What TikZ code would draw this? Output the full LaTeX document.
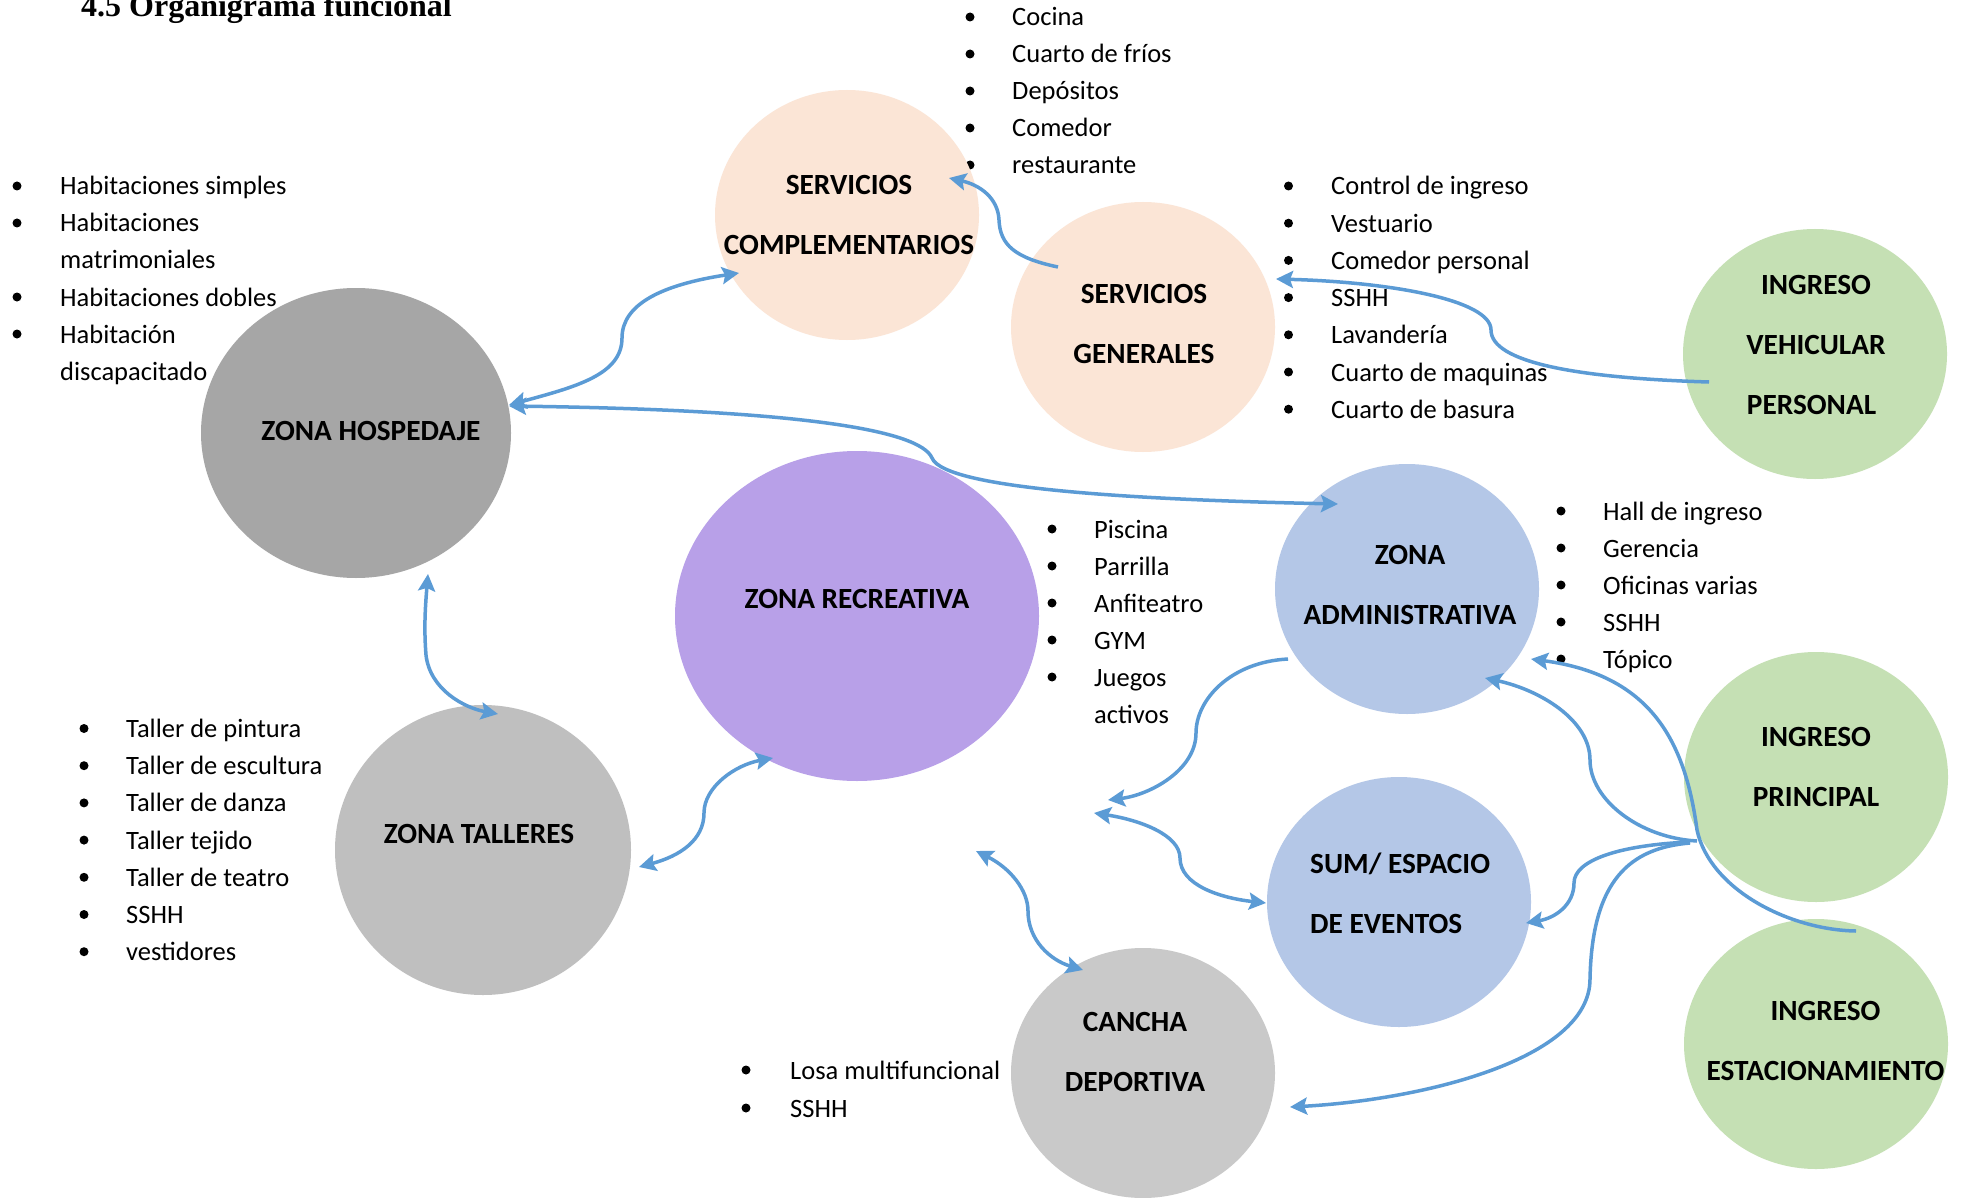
\documentclass[tikz,border=0pt]{standalone}
\usepackage{fontspec}
\setmainfont{Carlito}
\newfontfamily\titlefont{Liberation Serif}
\usetikzlibrary{shapes.geometric,arrows.meta,calc}
\definecolor{peach}{HTML}{FBE5D6}
\definecolor{leaf}{HTML}{C5E0B4}
\definecolor{sky}{HTML}{B4C7E7}
\definecolor{greyA}{HTML}{A6A6A6}
\definecolor{greyB}{HTML}{BFBFBF}
\definecolor{greyC}{HTML}{C9C9C9}
\definecolor{lilac}{HTML}{B8A0E8}
\definecolor{lineblue}{HTML}{5B9BD5}
\begin{document}
\begin{tikzpicture}[x=1pt,y=-1pt,
  >={Stealth[length=17pt,width=17pt,inset=3pt]},
  zone/.style={ellipse,inner sep=0pt,draw=none,minimum width=264pt,minimum height=250pt},
  item/.style={anchor=base west,inner sep=0pt,font=\fontsize{26.5}{37}\selectfont},
  lbl/.style={inner sep=0pt,align=center,font=\bfseries\fontsize{29.3}{60}\selectfont},
  conn/.style={draw=lineblue,line width=3.5pt},
  dot/.style={fill=black}]
\useasboundingbox (0,0) rectangle (1964,1198);
\fill[white] (0,0) rectangle (1964,1198);

\node[anchor=base west,inner sep=0pt,font=\titlefont\bfseries\fontsize{32}{38}\selectfont] (title) at (81,17) {4.5 Organigrama funcional};

% list above Servicios complementarios (drawn below the ellipse)
\foreach \t [count=\i from 0] in {Cocina, Cuarto de fríos, Depósitos, Comedor, restaurante}{
  \pgfmathsetmacro\yy{26+37*\i}
  \fill[dot] (970,{\yy-9}) circle[radius=4.5pt];
  \node[item] (la\i) at (1012,\yy) {\t};
}

% zones
\node[zone,fill=peach] (sc) at (847,215) {};
\node[zone,fill=peach] (sg) at (1143,327) {};
\node[zone,fill=leaf] (iv) at (1815,354) {};
\node[zone,fill=greyA,minimum width=310pt,minimum height=290pt] (hosp) at (356,433) {};
\node[zone,fill=lilac,minimum width=364pt,minimum height=330pt] (rec) at (857,616) {};
\node[zone,fill=sky] (adm) at (1407,589) {};
\node[zone,fill=greyB,minimum width=296pt,minimum height=290pt] (tal) at (483,850) {};
\node[zone,fill=sky] (sum) at (1399,902) {};
\node[zone,fill=leaf] (ip) at (1816,777) {};
\node[zone,fill=greyC] (can) at (1143,1073) {};
\node[zone,fill=leaf] (ie) at (1816,1044) {};

% labels
\node[lbl] (tsc) at (849,215) {SERVICIOS\\COMPLEMENTARIOS};
\node[lbl] (tsg) at (1144,324) {SERVICIOS\\GENERALES};
\node[lbl] (tiv) at (1816,345) {INGRESO\\VEHICULAR\\PERSONAL\hspace*{9pt}};
\node[lbl] (thosp) at (371,431) {ZONA HOSPEDAJE};
\node[lbl] (trec) at (857,599) {ZONA RECREATIVA};
\node[lbl] (tadm) at (1410,585) {ZONA\\ADMINISTRATIVA};
\node[lbl] (ttal) at (479,834) {ZONA TALLERES};
\node[lbl,align=left,anchor=west] (tsum) at (1310,893.5) {SUM/ ESPACIO\\DE EVENTOS};
\node[lbl] (tprin) at (1816,767) {INGRESO\\PRINCIPAL};
\node[lbl] (tcan) at (1135,1052) {CANCHA\\DEPORTIVA};
\node[lbl] (tie) at (1825.5,1041) {INGRESO\\ESTACIONAMIENTO};

% list Hospedaje
\fill[dot] (17,186) circle[radius=4.5pt];
\node[item] (lb0) at (60,195) {Habitaciones simples};
\fill[dot] (17,223) circle[radius=4.5pt];
\node[item] (lb1) at (60,232) {Habitaciones};
\node[item] (lb2) at (60,269) {matrimoniales};
\fill[dot] (17,297) circle[radius=4.5pt];
\node[item] (lb3) at (60,306) {Habitaciones dobles};
\fill[dot] (17,334) circle[radius=4.5pt];
\node[item] (lb4) at (60,343) {Habitación};
\node[item] (lb5) at (60,380) {discapacitado};

% list Servicios generales
\foreach \t [count=\i from 0] in {Control de ingreso, Vestuario, Comedor personal, SSHH, Lavandería, Cuarto de maquinas, Cuarto de basura}{
  \pgfmathsetmacro\yy{195+37.2*\i}
  \fill[dot] (1288.5,{\yy-9}) circle[radius=4.5pt];
  \node[item] (lc\i) at (1331,\yy) {\t};
}

% list Recreativa
\foreach \t [count=\i from 0] in {Piscina, Parrilla, Anfiteatro, GYM, Juegos}{
  \pgfmathsetmacro\yy{538+37*\i}
  \fill[dot] (1052,{\yy-9}) circle[radius=4.5pt];
  \node[item] (ld\i) at (1094,\yy) {\t};
}
\node[item] (ld5) at (1094,723) {activos};

% list Administrativa
\foreach \t [count=\i from 0] in {Hall de ingreso, Gerencia, Oficinas varias, SSHH, Tópico}{
  \pgfmathsetmacro\yy{520+37*\i}
  \fill[dot] (1561,{\yy-9}) circle[radius=4.5pt];
  \node[item] (le\i) at (1603,\yy) {\t};
}

% list Talleres
\foreach \t [count=\i from 0] in {Taller de pintura, Taller de escultura, Taller de danza, Taller tejido, Taller de teatro, SSHH, vestidores}{
  \pgfmathsetmacro\yy{737.5+37.2*\i}
  \fill[dot] (84,{\yy-9}) circle[radius=4.5pt];
  \node[item] (lf\i) at (126,\yy) {\t};
}

% list Cancha
\foreach \t [count=\i from 0] in {Losa multifuncional, SSHH}{
  \pgfmathsetmacro\yy{1079+38*\i}
  \fill[dot] (746,{\yy-9}) circle[radius=4.5pt];
  \node[item] (lg\i) at (790,\yy) {\t};
}

% free ends
\coordinate (p1) at (1108,800);
\coordinate (p2) at (1094,813);
\coordinate (p3) at (976,851);

% connectors
\draw[conn,<->] ($(hosp.center)+(153,-28)$) .. controls (575,387) and (622,375) .. (622,338) .. controls (622,305) and (660,285) .. ($(sc.center)+(-108,58)$);
\draw[conn,<->] ($(hosp.center)+(153,-27)$) .. controls (800,410) and (920,430) .. (932,458) .. controls (945,490) and (1150,500) .. ($(adm.center)+(-69,-85)$);
\draw[conn,->] ($(sg.center)+(-85,-60)$) .. controls (1015,258) and (1000,245) .. (999,220) .. controls (998,198) and (980,185) .. ($(sc.center)+(102,-37)$);
\draw[conn,->] ($(iv.center)+(-106,28)$) .. controls (1575,378) and (1491,362) .. (1491,330) .. controls (1491,300) and (1390,282) .. ($(sg.center)+(133,-48)$);
\draw[conn,<->] ($(hosp.center)+(72,141)$) .. controls (425,610) and (424,630) .. (426,655) .. controls (430,690) and (465,708) .. ($(tal.center)+(15,-136)$);
\draw[conn,<->] ($(tal.center)+(156,17)$) .. controls (680,856) and (704,840) .. (704,813) .. controls (704,787) and (735,765) .. ($(rec.center)+(-84,142)$);
\draw[conn,->] ($(adm.center)+(-119,70)$) .. controls (1230,662) and (1196,700) .. (1196,733) .. controls (1196,770) and (1150,795) .. (p1);
\draw[conn,<->] (p2) .. controls (1140,820) and (1180,835) .. (1180,858) .. controls (1180,885) and (1220,898) .. ($(sum.center)+(-133,1)$);
\draw[conn,<->] (p3) .. controls (1010,868) and (1028,890) .. (1028,911) .. controls (1028,940) and (1050,960) .. ($(can.center)+(-60,-103)$);
\draw[conn,->] ($(ie.center)+(40,-113)$) .. controls (1790,930) and (1710,890) .. (1697,830) .. controls (1685,740) and (1650,675) .. ($(adm.center)+(124,70)$);
\draw[conn,->] ($(ip.center)+(-119,64)$) .. controls (1640,838) and (1590,800) .. (1590,760) .. controls (1590,720) and (1540,690) .. ($(adm.center)+(78,89)$);
\draw[conn,->] ($(ip.center)+(-126,65)$) .. controls (1620,845) and (1574,860) .. (1574,883) .. controls (1574,905) and (1555,918) .. ($(sum.center)+(127,21)$);
\draw[conn,->] ($(ip.center)+(-126,66)$) .. controls (1630,848) and (1592,880) .. (1590,979) .. controls (1590,1060) and (1420,1100) .. ($(can.center)+(147,34)$);
\end{tikzpicture}
\end{document}
